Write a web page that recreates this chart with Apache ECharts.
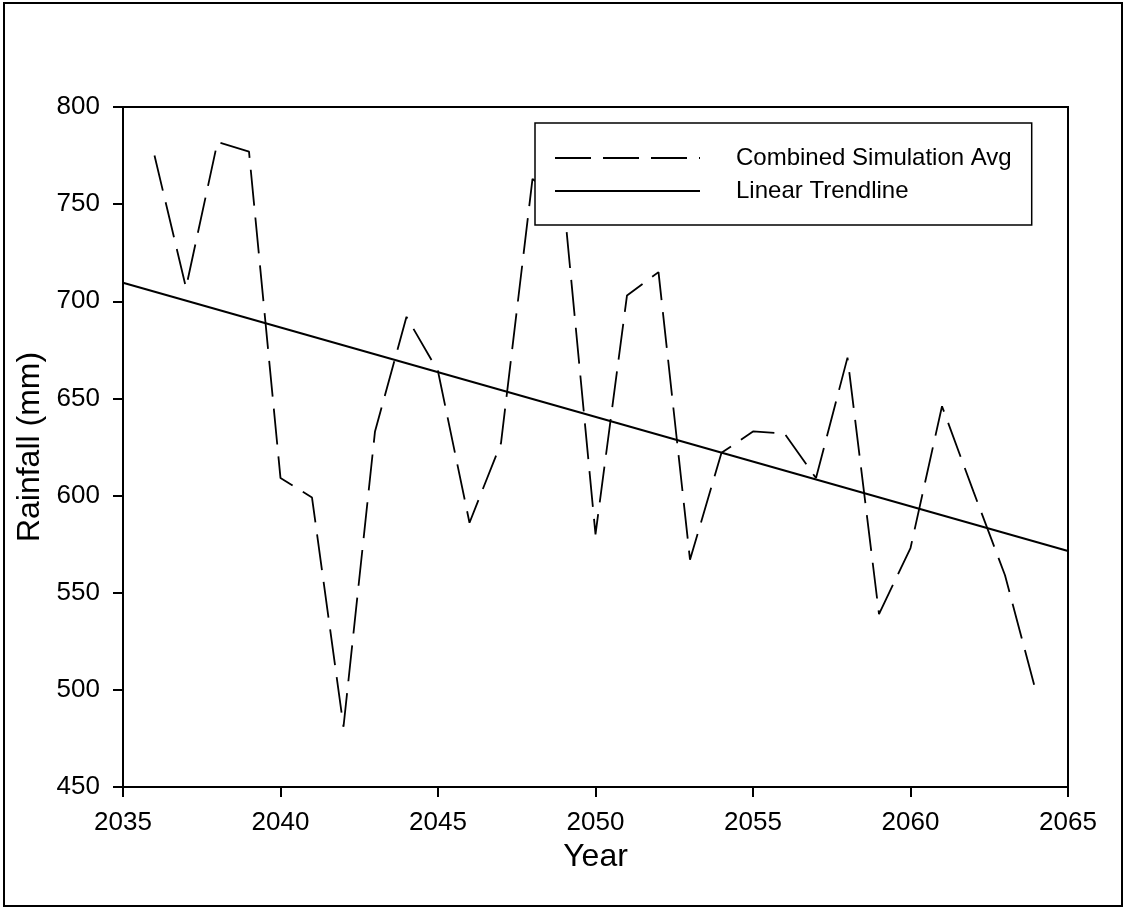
<!DOCTYPE html>
<html>
<head>
<meta charset="utf-8">
<script src="https://cdn.jsdelivr.net/npm/echarts@6/dist/echarts.min.js"></script>
<style>
html,body{margin:0;padding:0;background:#fff;}
#chart{width:1124px;height:909px;}
</style>
</head>
<body>
<div id="chart"></div>
<script>
const years = [2036,2037,2038,2039,2040,2041,2042,2043,2044,2045,2046,2047,2048,2049,2050,2051,2052,2053,2054,2055,2056,2057,2058,2059,2060,2061,2062,2063,2064];
const rainfall = [775,707,782,777,609,599,481,633,692,664,586,627,763,750,580,703,715,567,622,633,632,609,671,539,573,646,602,559,498];
const trendYears = [2035,2065];
const trendValues = [709.5,571.5];
const yTicks = {min:450,max:800,interval:50};
const xTicks = {min:2035,max:2065,interval:5};
const seriesNames = ['Combined Simulation Avg','Linear Trendline'];

const FONT = '"Liberation Sans", Arial, sans-serif';
const chart = echarts.init(document.getElementById('chart'), null, {renderer:'canvas'});
const axisCommon = {
  axisLine:{show:true,onZero:false,lineStyle:{color:'#000',width:2}},
  axisTick:{show:true,inside:false,length:10,lineStyle:{color:'#000',width:2}},
  splitLine:{show:false},
  nameTextStyle:{color:'#000',fontSize:32,fontFamily:FONT},
};
chart.setOption({
  animation:false,
  backgroundColor:'#fff',
  grid:{left:123,right:56,top:107,bottom:122,show:true,borderColor:'#000',borderWidth:2,backgroundColor:'transparent'},
  xAxis:Object.assign({}, axisCommon, {
    type:'value', min:xTicks.min, max:xTicks.max, interval:xTicks.interval,
    name:'Year', nameLocation:'middle', nameGap:52,
    axisLabel:{color:'#000',fontSize:26,fontFamily:FONT,margin:23,formatter:v=>String(v)}
  }),
  yAxis:Object.assign({}, axisCommon, {
    type:'value', min:yTicks.min, max:yTicks.max, interval:yTicks.interval,
    name:'Rainfall (mm)', nameLocation:'middle', nameGap:75,
    axisLabel:{color:'#000',fontSize:26,fontFamily:FONT,margin:23}
  }),
  legend:{
    show:true, orient:'vertical', left:535, top:123,
    borderColor:'#000', borderWidth:1.5, backgroundColor:'#fff',
    padding:[23,20,22,19], itemGap:9, itemWidth:145, itemHeight:14,
    itemStyle:{opacity:0},
    textStyle:{color:'#000',fontSize:24,fontFamily:FONT,padding:[0,0,0,31]},
    data:seriesNames,
    z:10
  },
  series:[
    {
      name:seriesNames[0], type:'line', showSymbol:false, symbol:'none',
      data:years.map((y,i)=>[y,rainfall[i]]),
      lineStyle:{color:'#000',width:1.8,type:[36,12]},
      itemStyle:{color:'#000'}
    },
    {
      name:seriesNames[1], type:'line', showSymbol:false, symbol:'none',
      data:trendYears.map((y,i)=>[y,trendValues[i]]),
      lineStyle:{color:'#000',width:2,type:'solid'},
      itemStyle:{color:'#000'}
    }
  ],
  graphic:[{
    type:'rect', silent:true,
    shape:{x:4,y:3,width:1118,height:903},
    style:{fill:'none',stroke:'#000',lineWidth:2}
  }]
});
</script>
</body>
</html>
